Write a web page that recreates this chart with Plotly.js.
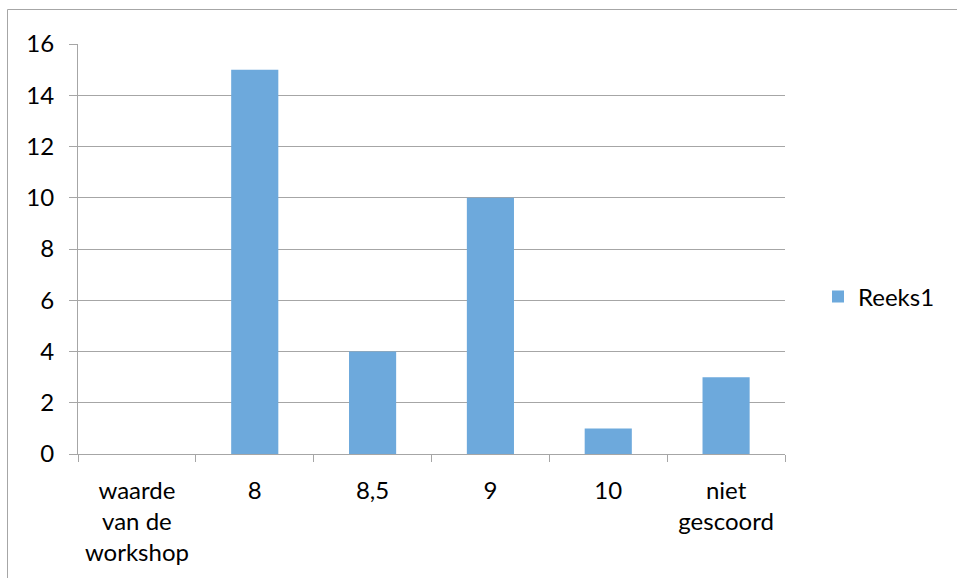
<!DOCTYPE html>
<html>
<head>
<meta charset="utf-8">
<script src="https://cdn.plot.ly/plotly-3.0.1.min.js"></script>
<style>html,body{margin:0;padding:0;background:#fff;}#chart{width:957px;height:578px;}</style>
</head>
<body>
<div id="chart"></div>
<script>
const categories = ["waarde<br>van de<br>workshop", "8", "8,5", "9", "10", "niet<br>gescoord"];
const values = [0, 15, 4, 10, 1, 3];
const seriesName = "Reeks1";
const yTicks = [0, 2, 4, 6, 8, 10, 12, 14, 16];

const L = 78, R = 785, T = 44, B = 454, W = 957, H = 578;
const px = x => (x - L) / (R - L);
const py = y => (B - y) / (B - T);

const data = [{
  type: "bar",
  x: categories,
  y: values,
  name: seriesName,
  marker: {color: "#6DA9DC"},
  showlegend: true
}];

const layout = {
  width: W, height: H,
  margin: {l: L, r: W - R, t: T, b: H - B, pad: 0, autoexpand: false},
  paper_bgcolor: "#fff",
  plot_bgcolor: "#fff",
  font: {family: "Lato, 'Open Sans', sans-serif", size: 24, color: "#000"},
  bargap: 0.6,
  showlegend: true,
  legend: {
    x: px(818), y: py(297), xanchor: "left", yanchor: "middle",
    font: {size: 24}, itemwidth: 30, tracegroupgap: 0
  },
  xaxis: {
    type: "category",
    showline: true, linecolor: "#a6a6a6", linewidth: 1,
    ticks: "outside", tickson: "boundaries", ticklen: 7, tickcolor: "#a6a6a6",
    showgrid: false, zeroline: false,
    tickfont: {size: 24}, tickangle: 0, ticklabelstandoff: 15,
    fixedrange: true
  },
  yaxis: {
    range: [0, 16], tickvals: yTicks,
    showline: true, linecolor: "#a6a6a6", linewidth: 1,
    showgrid: true, gridcolor: "#a6a6a6", gridwidth: 1,
    ticks: "outside", ticklen: 8, tickcolor: "#a6a6a6",
    zeroline: false, tickfont: {size: 24}, ticklabelstandoff: 10,
    fixedrange: true
  },
  shapes: [
    {type: "line", xref: "paper", yref: "paper", x0: px(7.5), x1: px(960), y0: py(9.5), y1: py(9.5), line: {color: "#a6a6a6", width: 1}},
    {type: "line", xref: "paper", yref: "paper", x0: px(7.5), x1: px(7.5), y0: py(9.5), y1: py(590), line: {color: "#a6a6a6", width: 1}}
  ]
};

Plotly.newPlot("chart", data, layout, {displayModeBar: false, staticPlot: true});
</script>
</body>
</html>
